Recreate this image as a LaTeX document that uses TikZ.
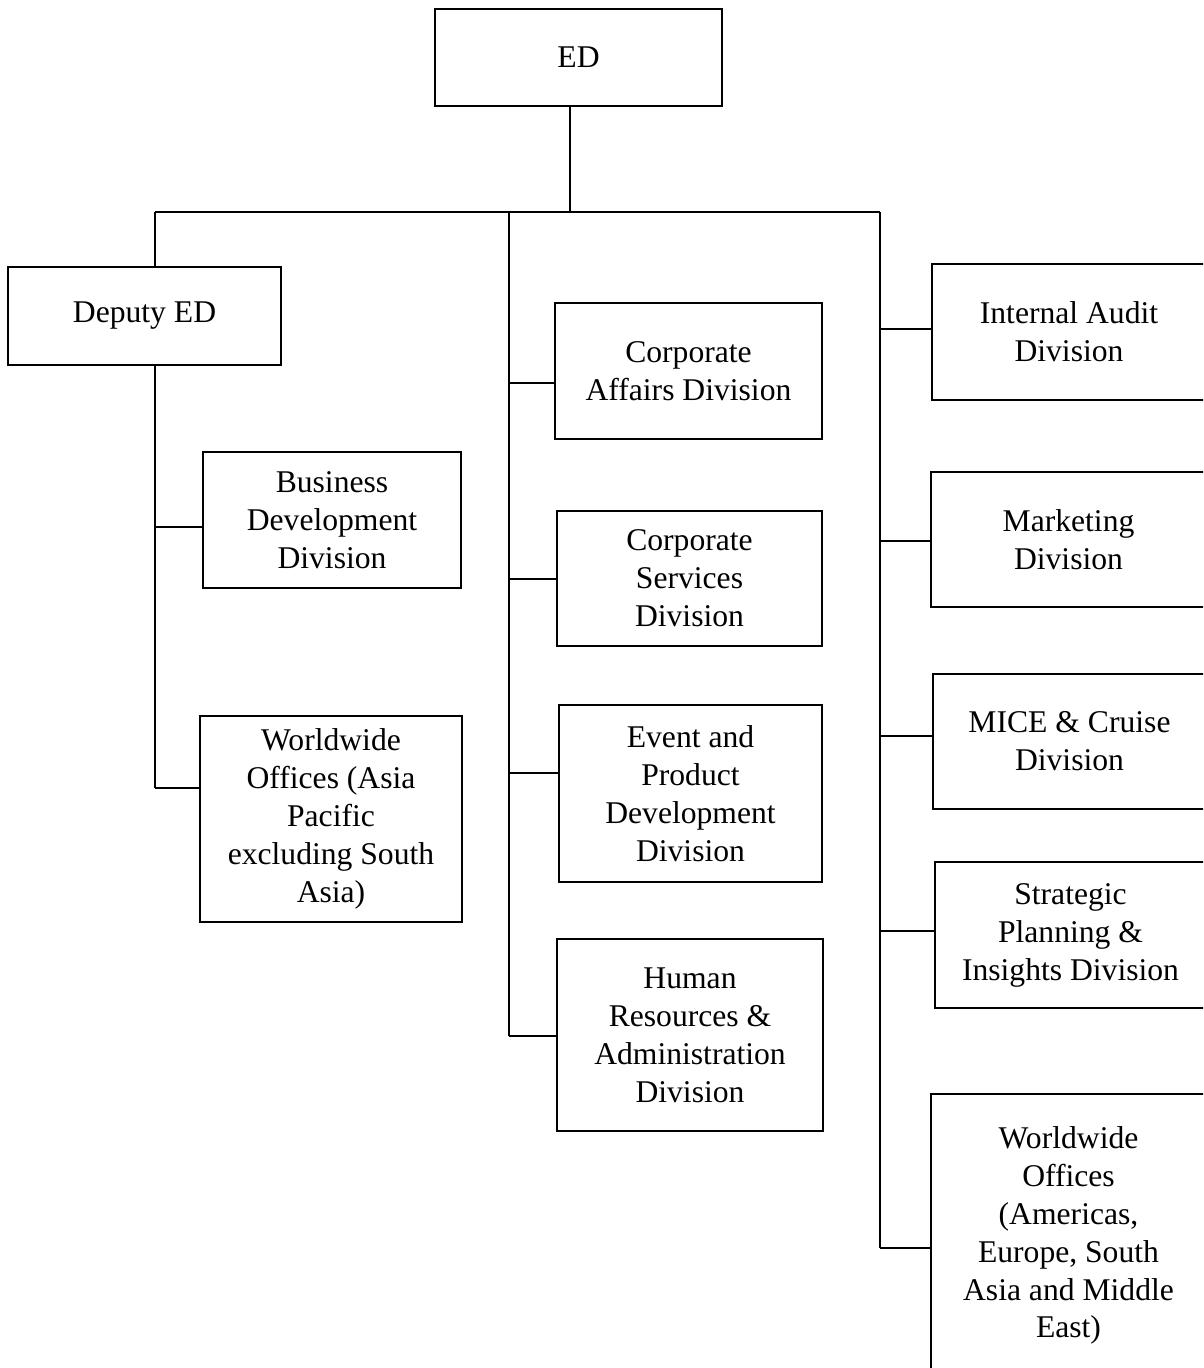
\documentclass[tikz,border=0pt]{standalone}
\usepackage{fontspec}
\setmainfont{Liberation Serif}
\begin{document}
\begin{tikzpicture}[x=0.02cm,y=-0.02cm,
  line width=0.9pt,
  orgbox/.style={draw,line width=0.9pt,align=center,inner sep=0pt,
    font=\fontsize{18}{21.6}\selectfont},
  conn/.style={line width=0.9pt}]
\path[use as bounding box] (0,0) rectangle (1203,1368);
\clip (0,0) rectangle (1203,1368);
% boxes
\node[orgbox,minimum width=287*0.02cm,minimum height=97*0.02cm] (ED) at (578.5,57.5) {ED};
\node[orgbox,minimum width=273*0.02cm,minimum height=98*0.02cm] (DED) at (144.5,316) {Deputy ED};
\node[orgbox,minimum width=258*0.02cm,minimum height=136*0.02cm] (BD) at (332,520) {Business\\Development\\Division};
\node[orgbox,minimum width=262*0.02cm,minimum height=206*0.02cm] (WWAP) at (331,819) {Worldwide\\Offices (Asia\\Pacific\\excluding South\\Asia)};
\node[orgbox,minimum width=267*0.02cm,minimum height=136*0.02cm] (CA) at (688.5,371) {Corporate\\Affairs Division};
\node[orgbox,minimum width=265*0.02cm,minimum height=135*0.02cm] (CS) at (689.5,578.5) {Corporate\\Services\\Division};
\node[orgbox,minimum width=263*0.02cm,minimum height=177*0.02cm] (EPD) at (690.5,793.5) {Event and\\Product\\Development\\Division};
\node[orgbox,minimum width=266*0.02cm,minimum height=192*0.02cm] (HR) at (690,1035) {Human\\Resources \&\\Administration\\Division};
\node[orgbox,minimum width=274*0.02cm,minimum height=136*0.02cm] (IA) at (1069,332) {Internal Audit\\Division};
\node[orgbox,minimum width=275*0.02cm,minimum height=135*0.02cm] (MK) at (1068.5,539.5) {Marketing\\Division};
\node[orgbox,minimum width=273*0.02cm,minimum height=135*0.02cm] (MICE) at (1069.5,741.5) {MICE \& Cruise\\Division};
\node[orgbox,minimum width=271*0.02cm,minimum height=146*0.02cm] (SP) at (1070.5,935) {Strategic\\Planning \&\\Insights Division};
\node[orgbox,minimum width=275*0.02cm,minimum height=283*0.02cm] (WWR) at (1068.5,1235.5) {Worldwide\\Offices\\(Americas,\\Europe, South\\Asia and Middle\\East)};
% junction coordinates
\coordinate (hub) at (570,212);
\coordinate (L) at (155,212);
\coordinate (M) at (509,212);
\coordinate (R) at (880,212);
\coordinate (bBD) at (155,527);
\coordinate (bWWAP) at (155,788);
\coordinate (bCA) at (509,383);
\coordinate (bCS) at (509,579);
\coordinate (bEPD) at (509,773);
\coordinate (bHR) at (509,1036);
\coordinate (bIA) at (880,329);
\coordinate (bMK) at (880,541);
\coordinate (bMICE) at (880,736);
\coordinate (bSP) at (880,931);
\coordinate (bWWR) at (880,1248);
% connectors
\draw[conn] (ED.south -| hub) -- (hub);
\draw[conn] (L) -- (R);
\draw[conn] (L) -- (DED.north -| L);
\draw[conn] (DED.south -| L) -- (bWWAP);
\draw[conn] (bBD) -- (bBD -| BD.west);
\draw[conn] (bWWAP) -- (bWWAP -| WWAP.west);
\draw[conn] (M) -- (bHR);
\draw[conn] (bCA) -- (bCA -| CA.west);
\draw[conn] (bCS) -- (bCS -| CS.west);
\draw[conn] (bEPD) -- (bEPD -| EPD.west);
\draw[conn] (bHR) -- (bHR -| HR.west);
\draw[conn] (R) -- (bWWR);
\draw[conn] (bIA) -- (bIA -| IA.west);
\draw[conn] (bMK) -- (bMK -| MK.west);
\draw[conn] (bMICE) -- (bMICE -| MICE.west);
\draw[conn] (bSP) -- (bSP -| SP.west);
\draw[conn] (bWWR) -- (bWWR -| WWR.west);
\end{tikzpicture}
\end{document}
